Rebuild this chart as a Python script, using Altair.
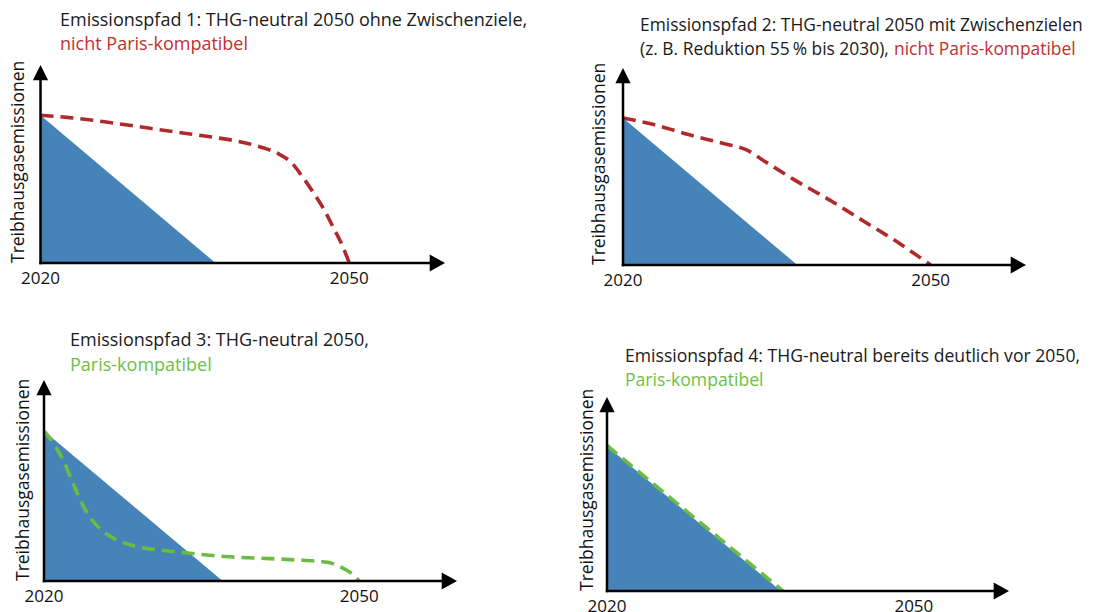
import altair as alt
import pandas as pd

# ---------------- data ----------------
budget_years = [2020, 2037]
budget_levels = [100, 0]

p1_years = [2020.0, 2022.8, 2026.2, 2029.6, 2032.9, 2036.3, 2039.7, 2041.7, 2043.1,
            2044.4, 2045.4, 2046.5, 2047.5, 2048.5, 2049.3, 2050.0]
p1_levels = [100, 98.4, 95.6, 92.2, 88.9, 85.6, 81.6, 77.8, 74.0,
             67.8, 58.9, 47.8, 36.7, 23.3, 12.2, 0]

p2_years = [2020.0, 2023.0, 2026.4, 2029.8, 2032.1, 2033.8, 2036.6, 2040.0, 2043.4, 2046.8, 2050.0]
p2_levels = [100, 95.5, 88.7, 82.6, 78.1, 70.6, 58.4, 44.8, 30.1, 15.4, 0]

p3_years = [2020.0, 2021.05, 2021.9, 2022.7, 2023.5, 2024.5, 2025.7, 2027.0, 2028.9,
            2031.6, 2033.9, 2037.2, 2040.5, 2043.8, 2047.0, 2048.4, 2049.4, 2050.0]
p3_levels = [100, 90.2, 79.3, 66.3, 53.3, 41.3, 32.6, 27.2, 22.8,
             20.2, 18.5, 16.3, 15.2, 14.1, 12.4, 8.7, 4.3, 0]

p4_years = [2020.0, 2037.2]
p4_levels = [100.5, 0]

tick_years = [2020, 2050]
tick_labels = ["2020", "2050"]
y_title = "Treibhausgasemissionen"

titles_line1 = [
    "Emissionspfad 1: THG-neutral 2050 ohne Zwischenziele,",
    "Emissionspfad 2: THG-neutral 2050 mit Zwischenzielen",
    "Emissionspfad 3: THG-neutral 2050,",
    "Emissionspfad 4: THG-neutral bereits deutlich vor 2050,",
]
titles_line2_black = ["", "(z. B. Reduktion 55\u2009% bis 2030),", "", ""]
titles_line2_color = ["nicht Paris-kompatibel", "nicht Paris-kompatibel",
                      "Paris-kompatibel", "Paris-kompatibel"]

# ---------------- style / layout ----------------
FONT = "Open Sans"
BLUE = "#4583b8"
RED_LINE = "#b02a2b"
RED_TEXT = "#c0312f"
GREEN_LINE = "#6bbb45"
GREEN_TEXT = "#6cbf48"
X_TIP = 2059.3
Y_TIP = 134

panels = [
    dict(xr=[32.5, 437], yr=[255, 57], ydy=-13, tx=52, t1=18, t2=42, t2c=None, ts=18,
         line=RED_LINE, text=RED_TEXT, years=p1_years, levels=p1_levels),
    dict(xr=[615, 1018], yr=[257, 60], ydy=-14, tx=632, t1=23, t2=47, t2c=886, ts=17.4,
         line=RED_LINE, text=RED_TEXT, years=p2_years, levels=p2_levels),
    dict(xr=[36, 449], yr=[573, 372], ydy=-11, tx=62, t1=338, t2=363, t2c=None, ts=18,
         line=GREEN_LINE, text=GREEN_TEXT, years=p3_years, levels=p3_levels),
    dict(xr=[599, 1001], yr=[583, 389], ydy=-10, tx=617, t1=354, t2=378, t2c=None, ts=17.6,
         line=GREEN_LINE, text=GREEN_TEXT, years=p4_years, levels=p4_levels),
]

X_ARROW = "M-1.8,-1L0,0L-1.8,1Z"
Y_ARROW = "M-0.9,1.8L0,0L0.9,1.8Z"

layers = []
for i, p in enumerate(panels):
    xs = alt.Scale(domain=[2020, X_TIP], range=p["xr"], zero=False, nice=False)
    ys = alt.Scale(domain=[0, Y_TIP], range=p["yr"], zero=False, nice=False)

    def X(f="year"):
        return alt.X(f"{f}:Q", scale=xs, axis=None)

    def Y(f="level"):
        return alt.Y(f"{f}:Q", scale=ys, axis=None)

    budget = pd.DataFrame({"year": budget_years, "level": budget_levels})
    path = pd.DataFrame({"year": p["years"], "level": p["levels"]})
    axes = pd.DataFrame({"x1": [2020, 2020], "x2": [X_TIP - 0.8, 2020],
                         "y1": [0, 0], "y2": [0, Y_TIP - 5]})
    ticks = pd.DataFrame({"year": tick_years, "level": [0, 0], "label": tick_labels})
    origin = pd.DataFrame({"year": [2020], "level": [0], "t": [y_title]})
    xtip = pd.DataFrame({"year": [X_TIP], "level": [0]})
    ytip = pd.DataFrame({"year": [2020], "level": [Y_TIP]})

    layers.append(alt.Chart(budget).mark_area(color=BLUE, opacity=1).encode(
        x=X(), y=Y(), y2=alt.datum(0)))
    layers.append(alt.Chart(path).mark_line(
        color=p["line"], strokeWidth=3.6, strokeDash=[13, 7], interpolate="monotone"
    ).encode(x=X(), y=Y()))
    layers.append(alt.Chart(axes).mark_rule(color="black", strokeWidth=2.5, strokeCap="square").encode(
        x=X("x1"), x2="x2:Q", y=Y("y1"), y2="y2:Q"))
    layers.append(alt.Chart(xtip).mark_point(
        shape=X_ARROW, filled=True, color="black", opacity=1, size=289, strokeWidth=0
    ).encode(x=X(), y=Y()))
    layers.append(alt.Chart(ytip).mark_point(
        shape=Y_ARROW, filled=True, color="black", opacity=1, size=289, strokeWidth=0
    ).encode(x=X(), y=Y()))
    layers.append(alt.Chart(ticks).mark_text(
        dy=16, baseline="middle", align="center", fontSize=17, font=FONT, color="#111111"
    ).encode(x=X(), y=Y(), text="label:N"))
    layers.append(alt.Chart(origin).mark_text(
        angle=270, align="left", baseline="bottom", dy=p["ydy"], fontSize=17.5,
        font=FONT, color="#111111"
    ).encode(x=X(), y=Y(), text="t:N"))

    # titles
    t1 = pd.DataFrame({"t": [titles_line1[i]]})
    layers.append(alt.Chart(t1).mark_text(
        align="left", baseline="alphabetic", fontSize=p["ts"], font=FONT, color="#1a1a1a"
    ).encode(x=alt.value(p["tx"]), y=alt.value(p["t1"]), text="t:N"))
    if titles_line2_black[i]:
        t2b = pd.DataFrame({"t": [titles_line2_black[i]]})
        layers.append(alt.Chart(t2b).mark_text(
            align="left", baseline="alphabetic", fontSize=p["ts"], font=FONT, color="#1a1a1a"
        ).encode(x=alt.value(p["tx"]), y=alt.value(p["t2"]), text="t:N"))
    t2 = pd.DataFrame({"t": [titles_line2_color[i]]})
    layers.append(alt.Chart(t2).mark_text(
        align="left", baseline="alphabetic", fontSize=p["ts"], font=FONT, color=p["text"]
    ).encode(x=alt.value(p["t2c"] if p["t2c"] else p["tx"]), y=alt.value(p["t2"]), text="t:N"))

chart = alt.layer(*layers).resolve_scale(x="independent", y="independent").properties(
    width=1080, height=604, padding=0,
    autosize=alt.AutoSizeParams(type="none"),
).configure_view(stroke=None)

chart.save("out.html", embed_options={"renderer": "svg", "actions": False})
